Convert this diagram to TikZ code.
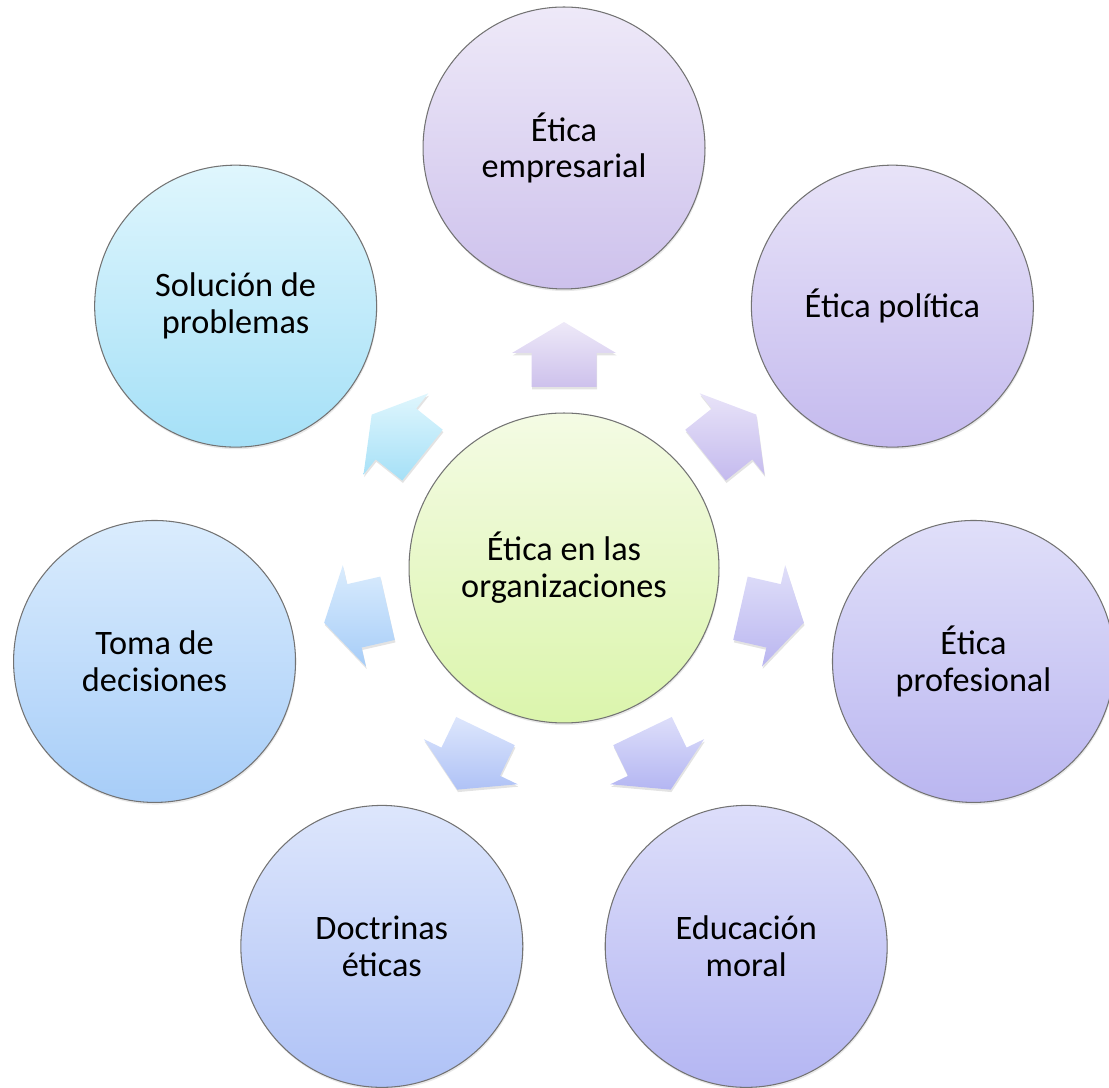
\documentclass[tikz,border=0pt]{standalone}
\usepackage{fontspec}
\setmainfont{Carlito}
\usepackage{tikz}
\usetikzlibrary{calc, shadows}
\definecolor{ringGray}{RGB}{115, 115, 115}
\definecolor{hubTop}{RGB}{244, 251, 228}
\definecolor{hubBot}{RGB}{219, 245, 172}
\definecolor{empTop}{RGB}{238, 233, 248}
\definecolor{empBot}{RGB}{205, 193, 236}
\definecolor{polTop}{RGB}{232, 227, 248}
\definecolor{polBot}{RGB}{196, 186, 238}
\definecolor{profTop}{RGB}{224, 223, 249}
\definecolor{profBot}{RGB}{186, 182, 240}
\definecolor{eduTop}{RGB}{221, 222, 250}
\definecolor{eduBot}{RGB}{180, 182, 242}
\definecolor{docTop}{RGB}{221, 230, 252}
\definecolor{docBot}{RGB}{175, 194, 246}
\definecolor{tomaTop}{RGB}{218, 236, 253}
\definecolor{tomaBot}{RGB}{167, 205, 248}
\definecolor{solTop}{RGB}{223, 246, 253}
\definecolor{solBot}{RGB}{165, 224, 247}
\tikzset{
    base/.style={
        font=\fontsize{19.5}{21}\selectfont,
        align=center,
        text=black
    },
    bubble/.style={
        base,
        circle,
        draw=ringGray,
        line width=0.6pt,
        inner sep=0pt,
        outer sep=0pt,
        minimum size=5.64cm,
        drop shadow={opacity=0.18, shadow xshift=0.4pt, shadow yshift=-1.2pt}
    },
    hub/.style={
        bubble,
        minimum size=6.2cm
    },
    pointer/.style={
        drop shadow={opacity=0.22, shadow xshift=0.4pt, shadow yshift=-1.4pt}
    }
}

\begin{document}
\begin{tikzpicture}[x=0.02cm, y=0.02cm]
  \useasboundingbox (0,0) rectangle (1109,1088);

  % Center
  \node[hub, top color=hubTop, bottom color=hubBot] (center) at (564,520) {Ética en las\\organizaciones};

  % Outer ring
  \node[bubble, top color=empTop, bottom color=empBot] (emp) at ($(center)+(90:420)$) {Ética\\empresarial};
  \node[bubble, top color=polTop, bottom color=polBot] (pol) at ($(center)+(38.57:420)$) {Ética política};
  \node[bubble, top color=profTop, bottom color=profBot] (prof) at ($(center)+(-12.86:420)$) {Ética\\profesional};
  \node[bubble, top color=eduTop, bottom color=eduBot] (edu) at ($(center)+(-64.29:420)$) {Educación\\moral};
  \node[bubble, top color=docTop, bottom color=docBot] (doc) at ($(center)+(-115.71:420)$) {Doctrinas\\éticas};
  \node[bubble, top color=tomaTop, bottom color=tomaBot] (toma) at ($(center)+(-167.14:420)$) {Toma de\\decisiones};
  \node[bubble, top color=solTop, bottom color=solBot] (sol) at ($(center)+(141.43:420)$) {Solución de\\problemas};

  % Arrows
  \foreach \a/\ca/\cb in {90/empTop/empBot, 38.57/polTop/polBot, -12.86/profTop/profBot,
                          -64.29/eduTop/eduBot, -115.71/docTop/docBot, -167.14/tomaTop/tomaBot,
                          141.43/solTop/solBot}{
    \begin{scope}[shift={(center)}, rotate=\a]
      \path[pointer, top color=\ca, bottom color=\cb]
        (181,-32.5) -- (215,-32.5) -- (215,-52) -- (246,0) -- (215,52) -- (215,32.5) -- (181,32.5) -- cycle;
    \end{scope}
  }
\end{tikzpicture}
\end{document}
